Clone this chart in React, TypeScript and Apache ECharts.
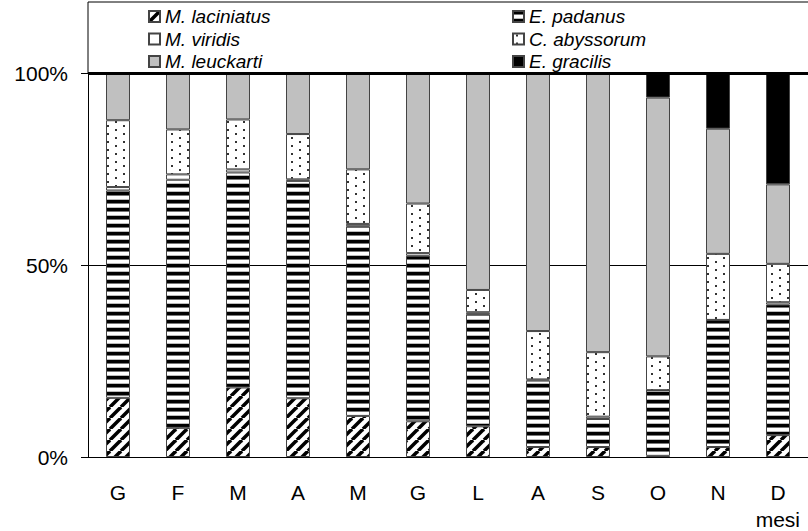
import React, { useEffect, useRef } from "react";
import * as echarts from "echarts";

const months = ["G", "F", "M", "A", "M", "G", "L", "A", "S", "O", "N", "D"];
const yTicks = [0, 50, 100];

const laciniatus = [15.4, 7.6, 18.1, 15.3, 10.7, 9.3, 8.0, 2.6, 2.6, 0.3, 2.6, 5.7];
const padanus = [54.0, 64.6, 56.0, 56.6, 49.4, 43.1, 29.2, 17.3, 7.3, 17.1, 33.1, 34.0];
const viridis = [0.9, 1.4, 0.8, 0.4, 0.6, 0.7, 0.5, 0.3, 0.6, 0, 0, 0.6];
const abyssorum = [17.4, 11.7, 13.0, 11.8, 14.2, 12.9, 5.8, 12.6, 16.8, 8.8, 17.2, 10.0];
const leuckarti = [12.3, 14.7, 12.1, 15.9, 25.1, 34.0, 56.5, 67.2, 72.7, 67.4, 32.6, 20.7];
const gracilis = [0, 0, 0, 0, 0, 0, 0, 0, 0, 6.4, 14.5, 29.0];

const FONT = "'Liberation Sans', Arial, sans-serif";

function makeCanvas(w: number, h: number, draw: (ctx: CanvasRenderingContext2D) => void) {
  const c = document.createElement("canvas");
  c.width = w;
  c.height = h;
  const ctx = c.getContext("2d") as CanvasRenderingContext2D;
  ctx.fillStyle = "#fff";
  ctx.fillRect(0, 0, w, h);
  draw(ctx);
  return c;
}

function pattern(c: HTMLCanvasElement) {
  return { image: c, repeat: "repeat", imageWidth: c.width, imageHeight: c.height } as any;
}

export default function App() {
  const ref = useRef<HTMLDivElement>(null);
  useEffect(() => {
    if (!ref.current) return;
    const chart = echarts.init(ref.current, undefined, { renderer: "svg" });

    const stripes = makeCanvas(8, 8, (ctx) => {
      ctx.fillStyle = "#000";
      ctx.fillRect(0, 0, 8, 3);
      ctx.fillStyle = "#777";
      ctx.fillRect(0, 3, 8, 1);
      ctx.fillStyle = "#bbb";
      ctx.fillRect(0, 7, 8, 1);
    });
    const diag = makeCanvas(11, 11, (ctx) => {
      ctx.strokeStyle = "#000";
      ctx.lineWidth = 3.5;
      for (const k of [-11, 0, 11]) {
        ctx.beginPath();
        ctx.moveTo(k, 11);
        ctx.lineTo(k + 11, 0);
        ctx.stroke();
      }
    });
    const dots = makeCanvas(16, 8, (ctx) => {
      ctx.fillStyle = "#333";
      ctx.fillRect(3, 1, 2, 2);
      ctx.fillRect(11, 5, 2, 2);
    });

    const border = { borderColor: "#444", borderWidth: 1 };
    const mk = (name: string, data: number[], color: any, extra: any = {}) => ({
      name,
      type: "bar",
      stack: "total",
      barWidth: 24,
      data,
      itemStyle: { color, ...border },
      emphasis: { disabled: true },
      ...extra,
    });

    const legendText = { fontFamily: FONT, fontSize: 19, fontStyle: "italic", color: "#000", lineHeight: 19 };

    chart.setOption({
      animation: false,
      grid: { left: 88, right: -6, top: 73, bottom: 74 },
      legend: [
        {
          data: ["M. laciniatus", "M. viridis", "M. leuckarti"],
          orient: "vertical",
          left: 148,
          top: 7,
          padding: 0,
          itemWidth: 11,
          itemHeight: 11,
          itemGap: 3.5,
          icon: "rect",
          selectedMode: false,
          textStyle: legendText,
        },
        {
          data: ["E. padanus", "C. abyssorum", "E. gracilis"],
          orient: "vertical",
          left: 512,
          top: 7,
          padding: 0,
          itemWidth: 11,
          itemHeight: 11,
          itemGap: 3.5,
          icon: "rect",
          selectedMode: false,
          textStyle: legendText,
        },
      ],
      xAxis: {
        type: "category",
        data: months,
        axisLine: { lineStyle: { color: "#000", width: 1 } },
        axisTick: { length: 6, lineStyle: { color: "#000" } },
        axisLabel: { fontFamily: FONT, fontSize: 21, color: "#000", margin: 25 },
      },
      yAxis: {
        type: "value",
        min: 0,
        max: 100,
        interval: 50,
        axisLine: { show: true, lineStyle: { color: "#000", width: 1 } },
        axisTick: { show: true, length: 7, lineStyle: { color: "#000" } },
        axisLabel: {
          fontFamily: FONT,
          fontSize: 21,
          color: "#000",
          margin: 20,
          formatter: (v: number) => (yTicks.includes(v) ? v + "%" : ""),
        },
        splitLine: { show: true, lineStyle: { color: "#000", width: 1 } },
      },
      graphic: [
        {
          type: "rect",
          shape: { x: 88, y: 2, width: 740, height: 71 },
          style: { fill: "none", stroke: "#000", lineWidth: 1 },
          silent: true,
        },
        {
          type: "text",
          right: 8,
          bottom: 1,
          style: { text: "mesi", font: `21px ${FONT}`, fill: "#000" },
          silent: true,
        },
      ],
      series: [
        mk("M. laciniatus", laciniatus, pattern(diag)),
        mk("E. padanus", padanus, pattern(stripes)),
        mk("M. viridis", viridis, "#ffffff"),
        mk("C. abyssorum", abyssorum, pattern(dots)),
        mk("M. leuckarti", leuckarti, "#c0c0c0"),
        mk("E. gracilis", gracilis, "#000000", {
          markLine: {
            silent: true,
            symbol: ["none", "none"],
            label: { show: false },
            lineStyle: { color: "#000", width: 3, type: "solid" },
            data: [{ yAxis: 100 }],
          },
        }),
      ],
    });
    return () => chart.dispose();
  }, []);
  return (
    <div
      ref={ref}
      style={{ position: "absolute", left: 0, top: 0, width: 808, height: 531, background: "#fff" }}
    />
  );
}
